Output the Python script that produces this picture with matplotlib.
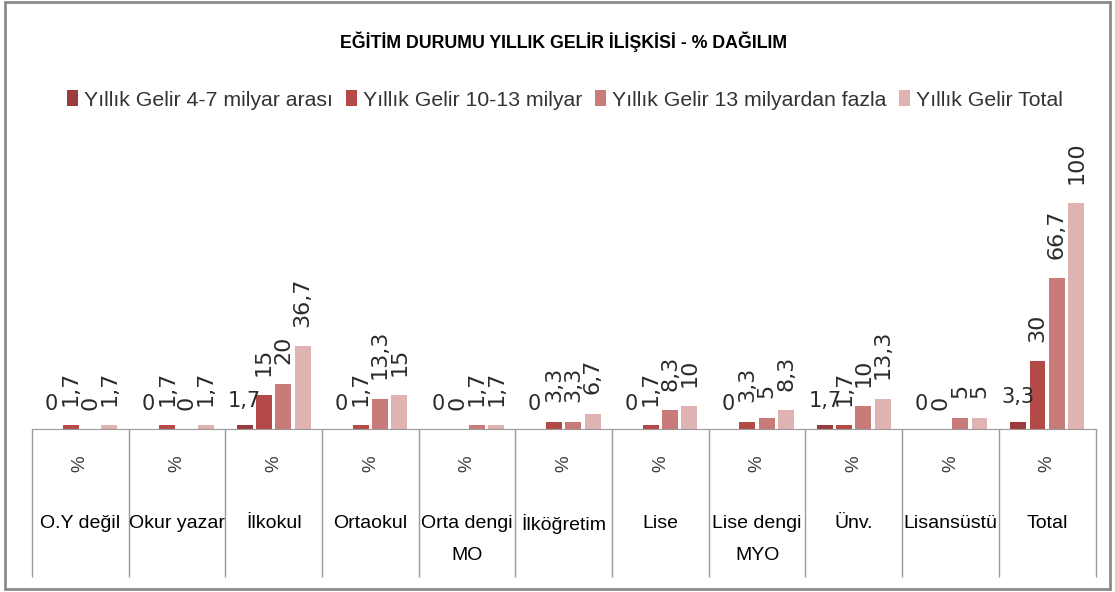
import matplotlib
matplotlib.use("Agg")
import matplotlib.pyplot as plt
import matplotlib.transforms as mtransforms
from matplotlib.patches import Rectangle, Patch

# Data
categories = ["O.Y değil", "Okur yazar", "İlkokul", "Ortaokul", "Orta dengi\nMO",
              "İlköğretim", "Lise", "Lise dengi\nMYO", "Ünv.", "Lisansüstü", "Total"]
series_names = ["Yıllık Gelir 4-7 milyar arası", "Yıllık Gelir 10-13 milyar",
                "Yıllık Gelir 13 milyardan fazla", "Yıllık Gelir Total"]
gelir_4_7 = [0, 0, 1.7, 0, 0, 0, 0, 0, 1.7, 0, 3.3]
gelir_10_13 = [1.7, 1.7, 15, 1.7, 0, 3.3, 1.7, 3.3, 1.7, 0, 30]
gelir_13_plus = [0, 0, 20, 13.3, 1.7, 3.3, 8.3, 5, 10, 5, 66.7]
gelir_total = [1.7, 1.7, 36.7, 15, 1.7, 6.7, 10, 8.3, 13.3, 5, 100]
colors = ["#9C3B3B", "#B34A48", "#C97B79", "#DFB3B2"]

sans = ["Liberation Sans", "DejaVu Sans"]

W, H = 1115, 592
fig = plt.figure(figsize=(W / 100, H / 100), dpi=100)
fig.patch.set_facecolor("white")

# outer chart border
fig.patches.append(Rectangle((5 / W, 1 - 589 / H), 1105 / W, 587 / H, transform=fig.transFigure,
                             fill=False, edgecolor="#8a8a8a", linewidth=2))

ax = fig.add_axes([32 / W, 1 - 429 / H, 1063.5 / W, 271.2 / H])
ax.set_ylim(0, 120)
ax.set_xlim(-0.5, len(categories) - 0.5)

all_series = [gelir_4_7, gelir_10_13, gelir_13_plus, gelir_total]
for j, vals in enumerate(all_series):
    xs = [i + (j - 1.5) * 0.2 for i in range(len(categories))]
    ax.bar(xs, vals, width=0.165, color=colors[j], zorder=2)
    for x, v in zip(xs, vals):
        lbl = f"{v:g}".replace(".", ",")
        if j == 0:
            ax.annotate(lbl, (x, v), xytext=(0, 10.5), textcoords="offset points",
                        ha="center", va="bottom", fontsize=15, color="#2b2b2b",
                        annotation_clip=False)
        else:
            ax.annotate(lbl, (x, v), xytext=(0, 14), textcoords="offset points",
                        ha="center", va="bottom", rotation=90, fontsize=16,
                        color="#2b2b2b", annotation_clip=False)

for s in ["left", "top", "right"]:
    ax.spines[s].set_visible(False)
ax.spines["bottom"].set_color("#9a9a9a")
ax.set_yticks([])

# category "table" lines under the axis
ax.set_xticks([i - 0.5 for i in range(len(categories) + 1)])
ax.set_xticklabels([])
ax.tick_params(axis="x", length=106.5, width=1, color="#9a9a9a", direction="out")

trans = mtransforms.blended_transform_factory(ax.transData, ax.transAxes)
for i, cat in enumerate(categories):
    ax.text(i, (429 - 464) / 271.2, "%", transform=trans, ha="center", va="center",
            rotation=90, fontsize=13.5, color="#404040", family=sans)
    for k, line in enumerate(cat.split("\n")):
        ax.text(i, (429 - 524 - 32 * k) / 271.2, line, transform=trans, ha="center",
                va="center", fontsize=14, family=sans, color="black")

fig.text(0.505, 1 - 42 / H, "EĞİTİM DURUMU YILLIK GELİR İLİŞKİSİ - % DAĞILIM",
         ha="center", va="center", fontsize=12.8, fontweight="bold", family=sans)

handles = [Patch(facecolor=c, edgecolor="none") for c in colors]
fig.legend(handles, series_names, loc="center", bbox_to_anchor=(0.507, 1 - 100 / H),
           ncol=4, frameon=False, prop={"family": sans, "size": 15.3},
           handletextpad=0.3, columnspacing=0.6, handlelength=0.5, handleheight=0.72,
           labelcolor="#333333")

fig.savefig("out.png", dpi=100)
